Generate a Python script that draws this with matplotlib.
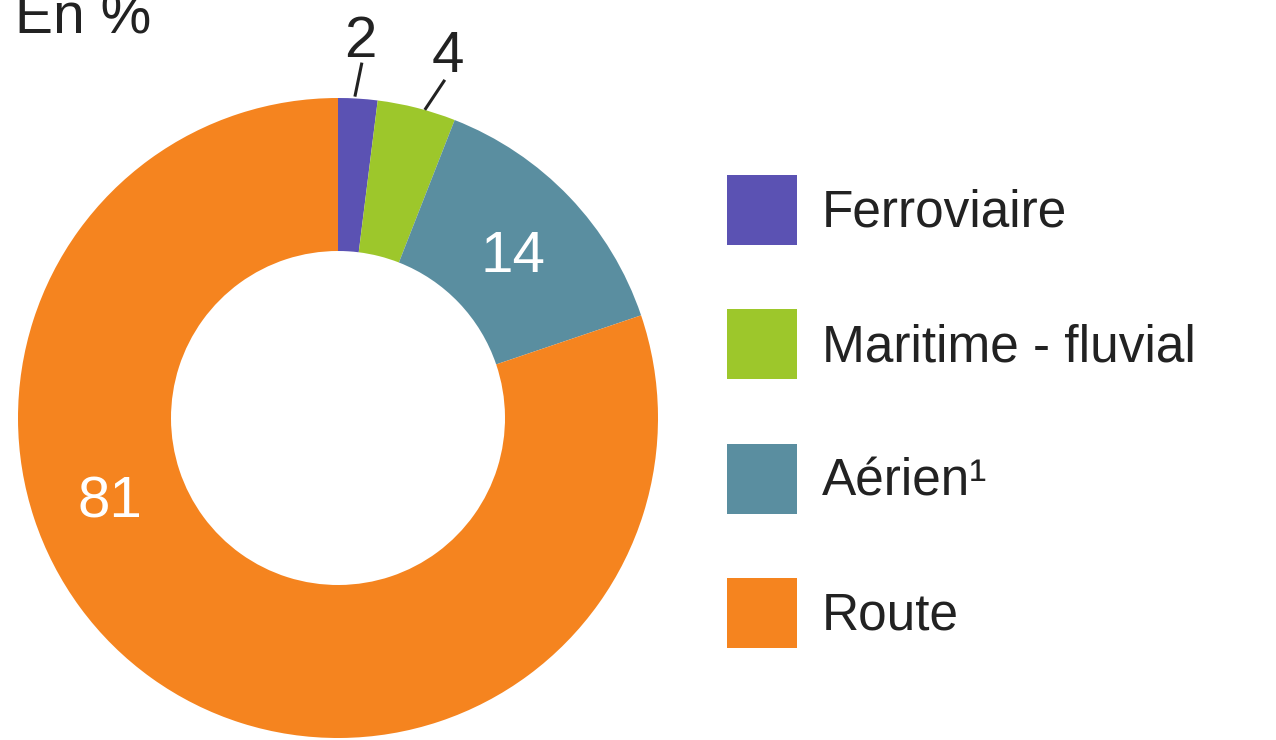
import numpy as np
import matplotlib
matplotlib.use("Agg")
import matplotlib.pyplot as plt

# ---- data ----
categories = ["Ferroviaire", "Maritime - fluvial", "Aérien¹", "Route"]
values = [2, 4, 14, 81]
colors = ["#5b52b3", "#9dc72b", "#5a8ea0", "#f5841f"]
value_labels = ["2", "4", "14", "81"]

plt.rcParams["font.family"] = ["Liberation Sans", "DejaVu Sans"]

W, H = 1276, 740
fig = plt.figure(figsize=(W / 100, H / 100), dpi=100)
ax = fig.add_axes([0, 0, 1, 1])
ax.set_xlim(0, W)
ax.set_ylim(0, H)
ax.set_aspect("equal")
ax.axis("off")

# geometrie en pixels (y vers le haut)
cx, cy = 338, H - 418
R, ring = 320, 153
LBL_PT = 42
cap = 0.716 * LBL_PT * 100 / 72  # hauteur des chiffres en px

wedges, _ = ax.pie(values, colors=colors, radius=R, center=(cx, cy),
                   startangle=90, counterclock=False,
                   wedgeprops=dict(width=ring, linewidth=0))
ax.set_xlim(0, W)
ax.set_ylim(0, H)

def polar(ang, r):
    a = np.deg2rad(ang)
    return cx + r * np.cos(a), cy + r * np.sin(a)

# petites parts : étiquette dehors avec trait
outside = {0: ((-3, 2), (4, 36), (2, 63)),
           1: ((8, -2), (28, 28), (31, 57))}
for i, (a, b, c) in outside.items():
    w = wedges[i]
    mid = (w.theta1 + w.theta2) / 2
    px, py = polar(mid, R)
    ax.plot([px + a[0], px + b[0]], [py + a[1], py + b[1]],
            color="#222222", lw=2.2, solid_capstyle="butt")
    ax.text(px + c[0], py + c[1] - cap / 2, value_labels[i], fontsize=LBL_PT,
            color="#222222", ha="center", va="baseline")

# grandes parts : étiquette dans l'anneau
inside_angle = {2: None, 3: 199}
for i, ang in inside_angle.items():
    w = wedges[i]
    if ang is None:
        ang = (w.theta1 + w.theta2) / 2
    tx, ty = polar(ang, R - ring / 2 - 2)
    ax.text(tx, ty - cap / 2, value_labels[i], fontsize=LBL_PT, color="white",
            ha="center", va="baseline")

ax.text(15, H - 33, "En %", fontsize=41, color="#222222",
        ha="left", va="baseline")

leg = ax.legend(wedges, categories, loc="upper left",
                bbox_to_anchor=(727, H - 175), bbox_transform=ax.transData,
                frameon=False, fontsize=37, handlelength=1.36,
                handleheight=1.71, labelspacing=1.26, handletextpad=0.49,
                borderpad=0, borderaxespad=0)
for t in leg.get_texts():
    t.set_color("#222222")

fig.savefig("out.png", dpi=100)
